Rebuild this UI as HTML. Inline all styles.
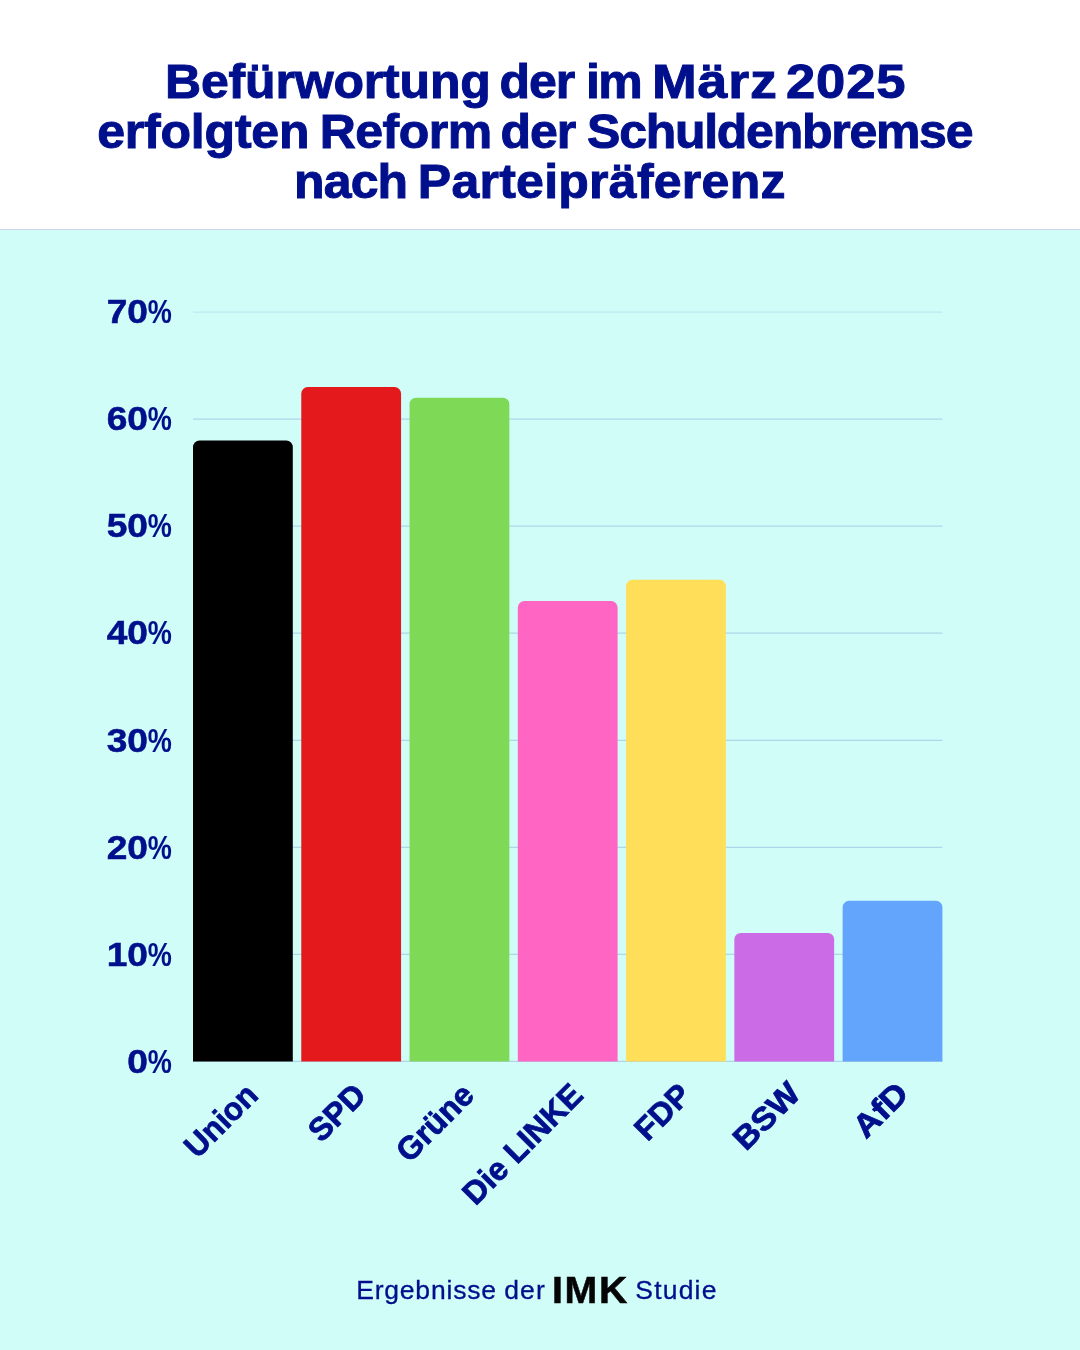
<!DOCTYPE html>
<html lang="de">
<head>
<meta charset="utf-8">
<title>Befürwortung der Reform der Schuldenbremse</title>
<style>
  html,body{margin:0;padding:0;}
  body{width:1080px;height:1350px;position:relative;overflow:hidden;background:#d1fdf8;
       font-family:"Liberation Sans",sans-serif;color:#000f8c;}
  .head{position:absolute;left:0;top:0;width:1080px;height:229px;background:#fff;border-bottom:1px solid #ccd4ec;}
  .title{position:absolute;left:0;top:0;width:1080px;margin:0;font-weight:bold;font-size:50px;line-height:50px;-webkit-text-stroke:1px #000f8c;}
  .title span{position:absolute;white-space:nowrap;transform:scale(1,0.975);transform-origin:0 40px;}
  svg{position:absolute;left:0;top:0;}
  .yl text{font-weight:bold;font-size:33px;fill:#000f8c;stroke:#000f8c;stroke-width:0.5px;}
  .xl text{font-weight:bold;font-size:32px;fill:#000f8c;text-anchor:end;stroke:#000f8c;stroke-width:0.8px;}
  .foot{position:absolute;left:0;top:1262px;width:1080px;height:56px;margin:0;font-size:26.5px;line-height:30px;white-space:nowrap;}
  .foot span,.foot b{position:absolute;display:block;}
  .foot span{-webkit-text-stroke:0.3px #000f8c;}
  .foot .f1{left:356.19px;top:13px;letter-spacing:0.8px;}
  .foot .f2{left:504.31px;top:13px;letter-spacing:1.07px;}
  .foot b{left:552.41px;top:8.8px;color:#050505;-webkit-text-stroke:0.5px #050505;font-size:36.5px;line-height:40px;letter-spacing:1.5px;transform:scaleX(1.0766);transform-origin:0 0;}
  .foot .f3{left:635.35px;top:13px;letter-spacing:1.18px;}
</style>
</head>
<body>
<div class="head"></div>
<h1 class="title">
  <span style="top:55.9px;left:165px;letter-spacing:-0.17px">Befürwortung </span><span style="top:55.9px;left:499.61px;letter-spacing:-1.06px">der </span><span style="top:55.9px;left:585.89px;letter-spacing:-1.55px">im </span><span style="top:55.9px;left:651.6px;letter-spacing:0.8px;transform:scale(1.0743,0.975)">März </span><span style="top:55.9px;left:785.8px;letter-spacing:0.8px;transform:scale(1.0513,0.975)">2025 </span>
  <span style="top:105.9px;left:97.21px;letter-spacing:-0.2px">erfolgten </span><span style="top:105.9px;left:319.77px;letter-spacing:-0.54px">Reform </span><span style="top:105.9px;left:500.42px;letter-spacing:-0.96px">der </span><span style="top:105.9px;left:587.07px;letter-spacing:-1.27px">Schuldenbremse </span>
  <span style="top:155.9px;left:294.07px;letter-spacing:-0.88px">nach </span><span style="top:155.9px;left:417.77px;letter-spacing:0.26px">Parteipräferenz</span>
</h1>
<svg width="1080" height="1350" viewBox="0 0 1080 1350" font-family="Liberation Sans, sans-serif">
  <g stroke="#aed6e8" stroke-width="1.3">
    <line x1="193" x2="942.42" y1="312.1" y2="312.1" stroke-opacity="0.5"/>
    <line x1="193" x2="942.42" y1="419.1" y2="419.1"/>
    <line x1="193" x2="942.42" y1="526.2" y2="526.2"/>
    <line x1="193" x2="942.42" y1="633.2" y2="633.2"/>
    <line x1="193" x2="942.42" y1="740.3" y2="740.3"/>
    <line x1="193" x2="942.42" y1="847.3" y2="847.3"/>
    <line x1="193" x2="942.42" y1="954.4" y2="954.4"/>
    <line x1="193" x2="942.42" y1="1061.4" y2="1061.4"/>
  </g>
  <g>
    <path fill="#000000" d="M193.00 1061.4V447.0a6.5 6.5 0 0 1 6.5-6.5h86.80a6.5 6.5 0 0 1 6.5 6.5V1061.4z"/>
    <path fill="#e3191c" d="M301.27 1061.4V393.5a6.5 6.5 0 0 1 6.5-6.5h86.80a6.5 6.5 0 0 1 6.5 6.5V1061.4z"/>
    <path fill="#7ed957" d="M409.54 1061.4V404.2a6.5 6.5 0 0 1 6.5-6.5h86.80a6.5 6.5 0 0 1 6.5 6.5V1061.4z"/>
    <path fill="#ff66c4" d="M517.81 1061.4V607.6a6.5 6.5 0 0 1 6.5-6.5h86.80a6.5 6.5 0 0 1 6.5 6.5V1061.4z"/>
    <path fill="#ffde59" d="M626.08 1061.4V586.2a6.5 6.5 0 0 1 6.5-6.5h86.80a6.5 6.5 0 0 1 6.5 6.5V1061.4z"/>
    <path fill="#cb6ce6" d="M734.35 1061.4V939.4a6.5 6.5 0 0 1 6.5-6.5h86.80a6.5 6.5 0 0 1 6.5 6.5V1061.4z"/>
    <path fill="#63a4fc" d="M842.62 1061.4V907.3a6.5 6.5 0 0 1 6.5-6.5h86.80a6.5 6.5 0 0 1 6.5 6.5V1061.4z"/>
  </g>
  <g class="yl">
    <text text-anchor="end" transform="translate(148,323.3) scale(1.125,1)">70</text><text style="stroke-width:0.1px" transform="translate(147.8,323.3) scale(0.82,1)">%</text>
    <text text-anchor="end" transform="translate(148,430.3) scale(1.125,1)">60</text><text style="stroke-width:0.1px" transform="translate(147.8,430.3) scale(0.82,1)">%</text>
    <text text-anchor="end" transform="translate(148,537.4) scale(1.125,1)">50</text><text style="stroke-width:0.1px" transform="translate(147.8,537.4) scale(0.82,1)">%</text>
    <text text-anchor="end" transform="translate(148,644.4) scale(1.125,1)">40</text><text style="stroke-width:0.1px" transform="translate(147.8,644.4) scale(0.82,1)">%</text>
    <text text-anchor="end" transform="translate(148,751.5) scale(1.125,1)">30</text><text style="stroke-width:0.1px" transform="translate(147.8,751.5) scale(0.82,1)">%</text>
    <text text-anchor="end" transform="translate(148,858.5) scale(1.125,1)">20</text><text style="stroke-width:0.1px" transform="translate(147.8,858.5) scale(0.82,1)">%</text>
    <text text-anchor="end" transform="translate(148,965.6) scale(1.125,1)">10</text><text style="stroke-width:0.1px" transform="translate(147.8,965.6) scale(0.82,1)">%</text>
    <text text-anchor="end" transform="translate(148,1072.6) scale(1.125,1)">0</text><text style="stroke-width:0.1px" transform="translate(147.8,1072.6) scale(0.82,1)">%</text>
  </g>
  <g class="xl">
    <text transform="translate(259.8,1097) rotate(-45) scale(0.975,1)">Union</text>
    <text transform="translate(367.8,1097) rotate(-45) scale(1,1)">SPD</text>
    <text transform="translate(475.8,1097) rotate(-45) scale(1,1)">Grüne</text>
    <text transform="translate(584.8,1097) rotate(-45) scale(1,1)">Die LINKE</text>
    <text transform="translate(692.8,1097) rotate(-45) scale(1,1)">FDP</text>
    <text transform="translate(802.3,1095.5) rotate(-45) scale(1.065,1)">BSW</text>
    <text transform="translate(910.3,1095.5) rotate(-45) scale(1.1,1)">AfD</text>
  </g>
</svg>
<p class="foot"><span class="f1">Ergebnisse </span><span class="f2">der </span><b>IMK </b><span class="f3">Studie</span></p>
</body>
</html>
